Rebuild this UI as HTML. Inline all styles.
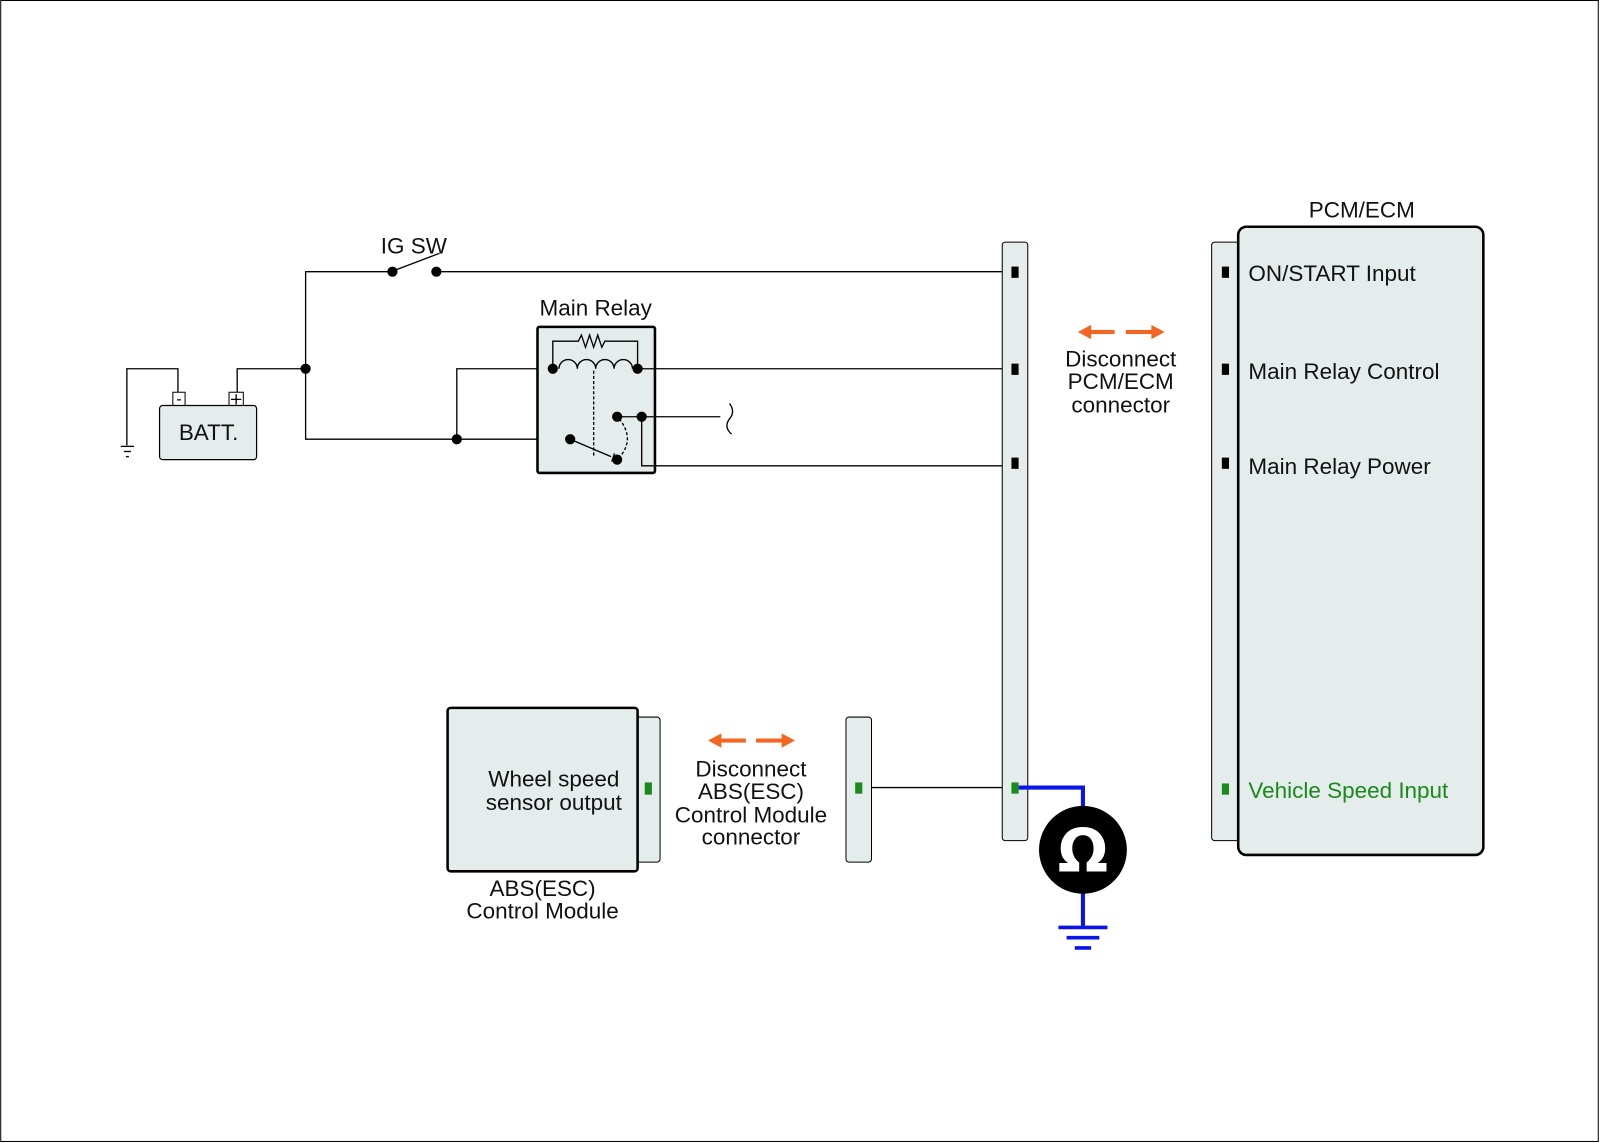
<!DOCTYPE html>
<html><head><meta charset="utf-8"><style>
html,body{margin:0;padding:0;background:#fff;}
svg{display:block;}
text{font-family:"Liberation Sans",sans-serif;font-size:22px;fill:#111;}
</style></head><body>
<svg width="1600" height="1143" viewBox="0 0 1566 1119" xmlns="http://www.w3.org/2000/svg">
<rect x="0.5" y="0.5" width="1564" height="1117" fill="#fff" stroke="#000" stroke-width="1"/>
<g stroke="#000" stroke-width="1.3" fill="none">
<polyline points="383,266 299,266 299,430 558,430"/>
<line x1="427" y1="266" x2="993" y2="266"/>
<line x1="388" y1="264" x2="430" y2="248"/>
<polyline points="232,385 232,361 299,361"/>
<polyline points="174,385 174,361 124,361 124,436"/>
<line x1="118" y1="437" x2="131" y2="437"/>
<line x1="121" y1="442" x2="128" y2="442"/>
<line x1="123" y1="447" x2="126" y2="447"/>
<polyline points="447,430 447,361 541,361"/>
</g>
<rect x="169" y="384" width="12" height="14" fill="#fff" stroke="#000" stroke-width="1"/>
<rect x="224" y="384" width="14" height="14" fill="#fff" stroke="#000" stroke-width="1"/>
<text x="175" y="396" text-anchor="middle" style="font-size:16px">-</text>
<path d="M226 391h10M231 386v10" stroke="#000" stroke-width="1.3"/>
<rect x="156" y="397" width="95" height="53" rx="3" fill="#e4ecec" stroke="#000" stroke-width="1.2"/>
<text x="204" y="431" text-anchor="middle">BATT.</text>
<text x="405" y="248" text-anchor="middle">IG SW</text>
<text x="583" y="309" text-anchor="middle">Main Relay</text>
<rect x="526" y="320" width="115" height="143" rx="2" fill="#e4ecec" stroke="#000" stroke-width="2.5"/>
<g stroke="#000" stroke-width="1.3" fill="none">
<polyline points="541,361 541,334 566,334 569,328 573,340 577,328 581,340 585,328 589,340 592,334 624,334 624,361"/>
<path d="M547 361 a9 9 0 0 1 18 0 a9 9 0 0 1 18 0 a9 9 0 0 1 18 0 a9 9 0 0 1 18 0"/>
<line x1="624" y1="361" x2="993" y2="361"/>
<line x1="604" y1="408" x2="705" y2="408"/>
<polyline points="628,408 628,456 993,456"/>
<line x1="558" y1="430" x2="598" y2="447"/>
<line x1="581" y1="363" x2="581" y2="446" stroke-dasharray="3,2"/>
<path d="M606 410 Q622 430 606 448" stroke-dasharray="3,2"/>
<path d="M714 395 q6 8 0 15 q-6 8 2 15"/>
<line x1="842" y1="771" x2="993" y2="771"/>
</g>
<polygon points="598,452 601,443 604,450" fill="#000"/>
<g fill="#000">
<circle cx="384" cy="266" r="5"/><circle cx="427" cy="266" r="5"/>
<circle cx="299" cy="361" r="5"/><circle cx="447" cy="430" r="5"/>
<circle cx="541" cy="361" r="5"/><circle cx="624" cy="361" r="5"/>
<circle cx="604" cy="408" r="5"/><circle cx="628" cy="408" r="5"/>
<circle cx="558" cy="430" r="5"/><circle cx="604" cy="450" r="5"/>
</g>
<rect x="981" y="237" width="25" height="586" rx="3" fill="#e4ecec" stroke="#000" stroke-width="1"/>
<g fill="#000"><rect x="990" y="261" width="7" height="11"/><rect x="990" y="356" width="7" height="11"/><rect x="990" y="448" width="7" height="11"/></g>
<rect x="990" y="766" width="7" height="11" fill="#1a8a1a"/>
<g fill="#f26522">
<rect x="1066" y="323" width="25" height="4"/><polygon points="1055,325 1068,318 1068,332"/>
<rect x="1102" y="323" width="26" height="4"/><polygon points="1140,325 1127,318 1127,332"/>
<rect x="704" y="723" width="26" height="4"/><polygon points="693,725 706,718 706,732"/>
<rect x="740" y="723" width="26" height="4"/><polygon points="778,725 765,718 765,732"/>
</g>
<text x="1097" y="359" text-anchor="middle">Disconnect</text>
<text x="1097" y="381" text-anchor="middle">PCM/ECM</text>
<text x="1097" y="404" text-anchor="middle">connector</text>
<text x="1333" y="213" text-anchor="middle">PCM/ECM</text>
<rect x="1186" y="237" width="30" height="586" rx="3" fill="#e4ecec" stroke="#000" stroke-width="1"/>
<rect x="1212" y="222" width="240" height="615" rx="8" fill="#e4ecec" stroke="#000" stroke-width="2.5"/>
<g fill="#000"><rect x="1196" y="261" width="7" height="11"/><rect x="1196" y="356" width="7" height="11"/><rect x="1196" y="448" width="7" height="11"/></g>
<rect x="1196" y="767" width="7" height="11" fill="#1a8a1a"/>
<text x="1222" y="275">ON/START Input</text>
<text x="1222" y="371">Main Relay Control</text>
<text x="1222" y="464">Main Relay Power</text>
<text x="1222" y="781" style="fill:#1a8a1a">Vehicle Speed Input</text>
<polyline points="997,771 1060,771 1060,795" fill="none" stroke="#0a14e6" stroke-width="4"/>
<line x1="1060" y1="870" x2="1060" y2="908" stroke="#0a14e6" stroke-width="4"/>
<g stroke="#0a14e6" stroke-width="3.5"><line x1="1036" y1="908" x2="1084" y2="908"/><line x1="1044" y1="918" x2="1076" y2="918"/><line x1="1052" y1="928" x2="1068" y2="928"/></g>
<circle cx="1060" cy="832" r="43" fill="#000"/>
<text x="1060" y="853" text-anchor="middle" style="fill:#fff;font-size:58px;font-weight:bold;font-family:'DejaVu Sans',sans-serif">Ω</text>
<rect x="828" y="702" width="25" height="142" rx="3" fill="#e4ecec" stroke="#000" stroke-width="1"/>
<rect x="837" y="766" width="7" height="11" fill="#1a8a1a"/>
<text x="735" y="760" text-anchor="middle">Disconnect</text>
<text x="735" y="782" text-anchor="middle">ABS(ESC)</text>
<text x="735" y="805" text-anchor="middle">Control Module</text>
<text x="735" y="827" text-anchor="middle">connector</text>
<rect x="620" y="702" width="26" height="142" rx="3" fill="#e4ecec" stroke="#000" stroke-width="1"/>
<rect x="438" y="693" width="186" height="160" rx="3" fill="#e4ecec" stroke="#000" stroke-width="2.5"/>
<rect x="631" y="766" width="7" height="12" fill="#1a8a1a"/>
<text x="542" y="770" text-anchor="middle">Wheel speed</text>
<text x="542" y="793" text-anchor="middle">sensor output</text>
<text x="531" y="877" text-anchor="middle">ABS(ESC)</text>
<text x="531" y="899" text-anchor="middle">Control Module</text>
</svg>
</body></html>
